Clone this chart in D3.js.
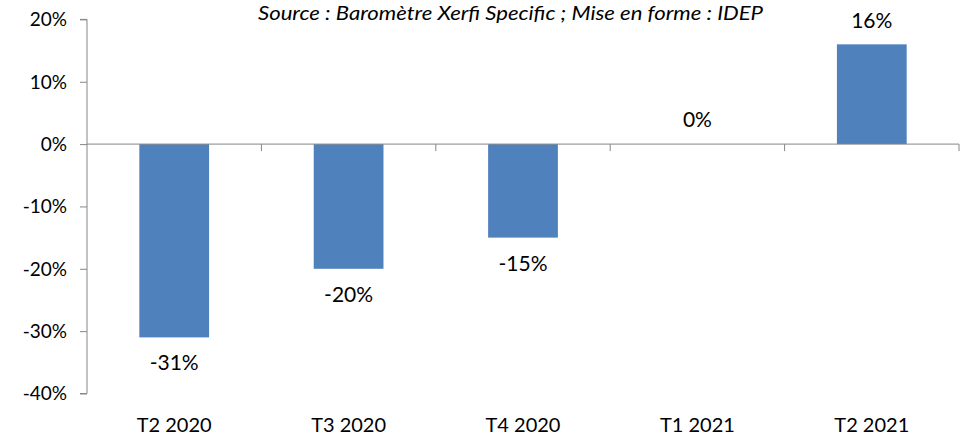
<!DOCTYPE html>
<html><head><meta charset="utf-8">
<script src="https://cdn.jsdelivr.net/npm/d3@7"></script>
<style>body{margin:0;background:#fff}svg{display:block}</style>
</head><body>
<svg id="c" width="964" height="436"></svg>
<script>
const categories = ["T2 2020","T3 2020","T4 2020","T1 2021","T2 2021"];
const values = [-31, -20, -15, 0, 16];
const yTicks = [-40, -30, -20, -10, 0, 10, 20];
const sourceText = "Source : Baromètre Xerfi Specific ; Mise en forme : IDEP";

const svg = d3.select("#c");
const font = "Lato, 'Liberation Sans', sans-serif";
const pLeft = 87, pRight = 959, pTop = 19.4, pBottom = 393.5;
const x = d3.scaleBand().domain(categories).range([pLeft, pRight]).paddingInner(0.6).paddingOuter(0.3);
const y = d3.scaleLinear().domain([-40, 20]).range([pBottom, pTop]);
const axisColor = "#868686";

// y axis
const ya = svg.append("g").attr("transform", `translate(${pLeft},0)`)
  .call(d3.axisLeft(y).tickValues(yTicks).tickFormat(d => d + "%").tickSize(7).tickPadding(13));
ya.select(".domain").attr("stroke", axisColor).attr("d", `M-7,${y(-40)}H0V${y(20)}H-7`);
ya.selectAll(".tick line").attr("stroke", axisColor);
ya.selectAll(".tick text").attr("font-family", font).attr("font-size", 19).attr("fill", "#000").attr("dy", "0.34em");

// bars
svg.append("g").selectAll("rect").data(values).join("rect")
  .attr("x", (d, i) => x(categories[i]))
  .attr("width", x.bandwidth())
  .attr("y", d => y(Math.max(0, d)))
  .attr("height", d => Math.abs(y(d) - y(0)))
  .attr("fill", "#4F81BD");

// x axis at zero
const boundaries = d3.range(categories.length + 1).map(i => pLeft + i * (pRight - pLeft) / categories.length);
svg.append("line").attr("x1", pLeft).attr("x2", pRight).attr("y1", y(0)).attr("y2", y(0)).attr("stroke", axisColor);
svg.append("g").selectAll("line").data(boundaries.slice(1)).join("line")
  .attr("x1", d => d).attr("x2", d => d).attr("y1", y(0)).attr("y2", y(0) + 7).attr("stroke", axisColor);

// category labels
svg.append("g").selectAll("text").data(categories).join("text")
  .attr("x", d => x(d) + x.bandwidth() / 2).attr("y", 432)
  .attr("text-anchor", "middle").attr("font-family", font).attr("font-size", 20).attr("fill", "#000")
  .text(d => d);

// value labels
svg.append("g").selectAll("text").data(values).join("text")
  .attr("x", (d, i) => x(categories[i]) + x.bandwidth() / 2)
  .attr("y", d => d < 0 ? y(d) + 33 : (d === 0 ? y(0) - 17 : y(d) - 16))
  .attr("text-anchor", "middle").attr("font-family", font).attr("font-size", 21).attr("fill", "#000")
  .text(d => d + "%");

// source
svg.append("text").attr("x", 258).attr("y", 20)
  .attr("font-family", font).attr("font-style", "italic").attr("font-size", 20).attr("fill", "#000")
  .attr("textLength", 505).attr("lengthAdjust", "spacingAndGlyphs")
  .text(sourceText);
</script>
</body></html>
